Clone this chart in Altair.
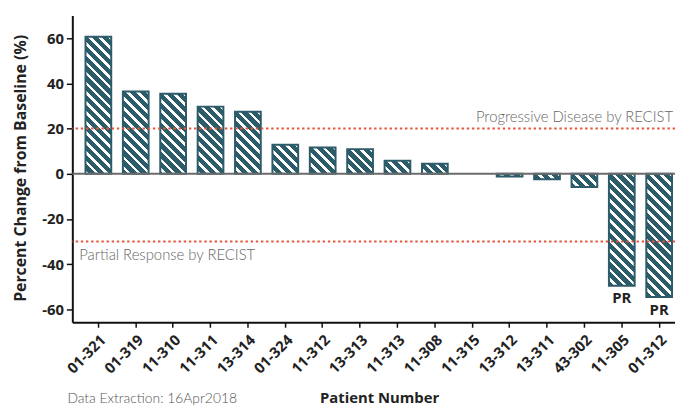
import altair as alt
import pandas as pd
import math

# ---------------- data ----------------
patients = ["01-321", "01-319", "11-310", "11-311", "13-314", "01-324", "11-312",
            "13-313", "11-313", "11-308", "11-315", "13-312", "13-311", "43-302",
            "11-305", "01-312"]
pct_change = [60.6, 36.4, 35.4, 29.7, 27.4, 12.8, 11.6, 10.9, 5.8, 4.4, 0.0,
              -1.2, -2.4, -5.9, -49.5, -54.5]
response = ["", "", "", "", "", "", "", "", "", "", "", "", "", "", "PR", "PR"]
ref_values = [20, -30]
ref_labels = ["Progressive Disease by RECIST", "Partial Response by RECIST"]
note_text = ["Data Extraction: 16Apr2018"]

# ---------------- style ----------------
W, H = 609, 310
Y_DOMAIN = [-65.7, 70]
PAD_INNER, PAD_OUTER, ALIGN = 0.312, 0.216, 0.816
TEAL = "#2c5b69"
WHITE = "#ffffff"
RED = "#e5563a"
FONT = "Lato"
BOLD_FONT = "Open Sans"

df = pd.DataFrame({"patient": patients, "pct": pct_change, "resp": response})

x_scale = alt.Scale(domain=patients, paddingInner=PAD_INNER,
                    paddingOuter=PAD_OUTER, align=ALIGN)
y_scale = alt.Scale(domain=Y_DOMAIN, nice=False, zero=True)

step = W / (len(patients) - PAD_INNER + 2 * PAD_OUTER)
bw = step * (1 - PAD_INNER)
ppu = H / (Y_DOMAIN[1] - Y_DOMAIN[0])


def stripe_fill(v, period=10.0, white=3.8):
    w = bw
    h = max(abs(v) * ppu, 0.5)
    k = (w + h) / (w * w + h * h)
    x2, y2 = k * w, 1 - k * h
    stops = [{"offset": 0, "color": TEAL}]
    start = math.floor(-h / period) * period + 2.0
    while start < w:
        a = (start + h) / (w + h)
        b = (start + white + h) / (w + h)
        start += period
        if b <= 0 or a >= 1:
            continue
        a, b = max(a, 0.0), min(b, 1.0)
        stops += [{"offset": a, "color": TEAL}, {"offset": a, "color": WHITE},
                  {"offset": b, "color": WHITE}, {"offset": b, "color": TEAL}]
    stops.append({"offset": 1, "color": TEAL})
    return {"gradient": "linear", "x1": 0, "y1": 1, "x2": x2, "y2": y2,
            "stops": stops}


x_axis = alt.Axis(
    title="Patient Number", titleFont=BOLD_FONT, titleFontSize=15,
    titleFontWeight="bold", titleColor="#222", titleX=310, titleY=81,
    titleAlign="center", titleBaseline="alphabetic", titleAnchor="start",
    labelAngle=315, labelAlign="right", labelBaseline="top", labelFont=BOLD_FONT,
    labelFontSize=15, labelFontWeight="bold", labelColor="#222", labelPadding=5,
    labelOverlap=False, tickSize=5, tickWidth=1.5, tickColor="#111",
    domainColor="#111", domainWidth=2, grid=False)
y_axis = alt.Axis(
    title="Percent Change from Baseline (%)", titleFont=BOLD_FONT, titleFontSize=16,
    titleFontWeight="bold", titleColor="#222", titleX=-52, titleY=154,
    titleAngle=270, titleAlign="center", titleBaseline="middle", titleAnchor="start",
    values=[-60, -40, -20, 0, 20, 40, 60], labelExpr="'' + datum.value",
    labelFont=BOLD_FONT, labelFontSize=15,
    labelFontWeight="bold", labelColor="#222", labelPadding=3, tickSize=6,
    tickWidth=1.5, tickColor="#111", domainColor="#111", domainWidth=2, grid=False)

X_ENC = dict(sort=patients, scale=x_scale, axis=x_axis)
Y_ENC = dict(scale=y_scale, axis=y_axis)

base = alt.Chart(df)

bar_layers = []
for p, v in zip(patients, pct_change):
    if v == 0:
        continue
    bar_layers.append(
        base.transform_filter(alt.datum.patient == p)
        .mark_bar(fill=stripe_fill(v), stroke=TEAL, strokeWidth=2)
        .encode(x=alt.X("patient:N", **X_ENC), y=alt.Y("pct:Q", **Y_ENC))
    )

zero_line = alt.Chart(pd.DataFrame({"y": [0]})).mark_rule(
    color="#6b6b6b", strokeWidth=2).encode(y=alt.Y("y:Q", **Y_ENC))

ref_df = pd.DataFrame({"v": ref_values, "label": ref_labels})
ref_rules = alt.Chart(ref_df).mark_rule(
    color=RED, strokeWidth=2, strokeDash=[2.4, 2.8]).encode(y=alt.Y("v:Q", **Y_ENC))

pd_text = alt.Chart(ref_df).transform_filter(alt.datum.v > 0).mark_text(
    align="right", baseline="alphabetic", dy=-6.5, font=FONT, fontSize=15,
    fontWeight=300, color="#666666").encode(
    x=alt.value(W - 2), y=alt.Y("v:Q", **Y_ENC), text="label:N")
pr_line_text = alt.Chart(ref_df).transform_filter(alt.datum.v < 0).mark_text(
    align="left", baseline="alphabetic", dy=18.5, font=FONT, fontSize=15,
    fontWeight=300, color="#666666").encode(
    x=alt.value(7), y=alt.Y("v:Q", **Y_ENC), text="label:N")

pr_text = base.transform_filter(alt.datum.resp != "").mark_text(
    baseline="alphabetic", dy=18, font=BOLD_FONT, fontSize=15, fontWeight="bold",
    color="#222").encode(
    x=alt.X("patient:N", **X_ENC), y=alt.Y("pct:Q", **Y_ENC), text="resp:N")

note = alt.Chart(pd.DataFrame({"t": note_text})).mark_text(
    align="left", baseline="alphabetic", font=FONT, fontSize=14, fontWeight=300,
    color="#555").encode(x=alt.value(-5), y=alt.value(392), text="t:N")

chart = alt.layer(*bar_layers, zero_line, ref_rules, pd_text,
                  pr_line_text, pr_text, note).properties(
    width=W, height=H,
    autosize=alt.AutoSizeParams(type="none"),
    padding={"left": 65, "top": 5.5, "right": 0, "bottom": 85.5},
).configure_view(stroke=None)

chart.save("out.html", embed_options={"renderer": "svg", "actions": False})
